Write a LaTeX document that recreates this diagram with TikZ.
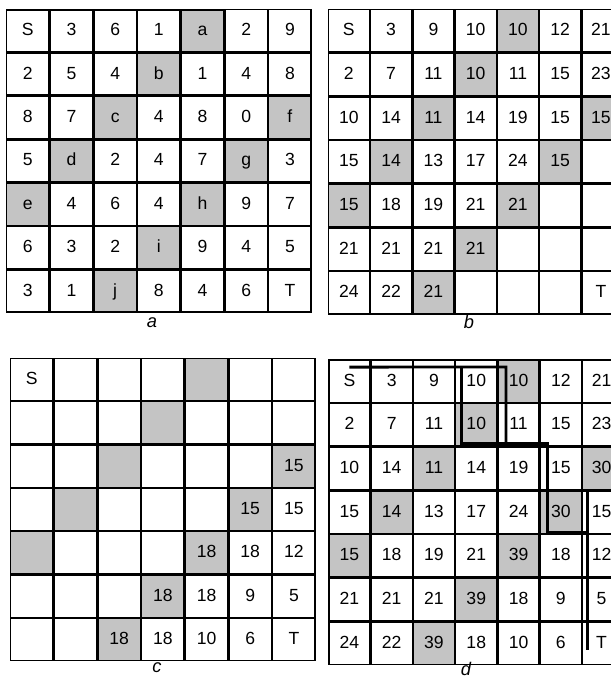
\documentclass[tikz,border=0pt]{standalone}
\usepackage{fontspec}
\setmainfont{Liberation Sans}
\usetikzlibrary{matrix,positioning}
\definecolor{cellgray}{HTML}{C4C4C4}
\tikzset{
  board/.style={matrix of nodes,nodes in empty cells,inner sep=0pt,outer sep=0pt,column sep=0pt,row sep=0pt,anchor=north west,
    nodes={draw=black,line width=.9pt,fill=white,inner sep=0pt,outer sep=0pt,text height=.72em,text depth=0pt,font=\fontsize{12.5}{15}\selectfont}},
  wideboard/.style={nodes={minimum width=1.06cm,minimum height=1.0525cm}},
  narrowboard/.style={nodes={minimum width=1.025cm,minimum height=1.06cm},column 7/.style={nodes={minimum width=.95cm}}},
  shaded/.style={fill=cellgray},
  route/.style={line width=2pt,line join=miter},
  seamline/.style={line width=1.4pt},
  caption/.style={inner sep=0pt,font=\fontsize{13}{15}\selectfont\itshape},
}

\begin{document}
\begin{tikzpicture}[x=0.025cm,y=-0.025cm]
    \clip (0,0) rectangle (611,679);
    \useasboundingbox (0,0) rectangle (611,679);
    % grid a
    \matrix[board,wideboard] (ga) at (6,9) {
      S & 3 & 6 & 1 & |[shaded]| a & 2 & 9 \\
      2 & 5 & 4 & |[shaded]| b & 1 & 4 & 8 \\
      8 & 7 & |[shaded]| c & 4 & 8 & 0 & |[shaded]| f \\
      5 & |[shaded]| d & 2 & 4 & 7 & |[shaded]| g & 3 \\
      |[shaded]| e & 4 & 6 & 4 & |[shaded]| h & 9 & 7 \\
      6 & 3 & 2 & |[shaded]| i & 9 & 4 & 5 \\
      3 & 1 & |[shaded]| j & 8 & 4 & 6 & T \\
    };
    \draw[seamline] (ga-1-1.north west) -- (ga-1-5.north east);
    \draw[seamline] (ga-4-1.north west) -- (ga-4-7.north east);
    % grid b
    \matrix[board,narrowboard] (gb) at (327.7,9) {
      S & 3 & 9 & 10 & |[shaded]| 10 & 12 & 21 \\
      2 & 7 & 11 & |[shaded]| 10 & 11 & 15 & 23 \\
      10 & 14 & |[shaded]| 11 & 14 & 19 & 15 & |[shaded]| 15 \\
      15 & |[shaded]| 14 & 13 & 17 & 24 & |[shaded]| 15 & \\
      |[shaded]| 15 & 18 & 19 & 21 & |[shaded]| 21 & & \\
      21 & 21 & 21 & |[shaded]| 21 & & & \\
      24 & 22 & |[shaded]| 21 & & & & T \\
    };
    % grid c
    \matrix[board,wideboard] (gc) at (10,357.7) {
      S & & & & |[shaded]| & & \\
      & & & |[shaded]| & & & \\
      & & |[shaded]| & & & & |[shaded]| 15 \\
      & |[shaded]| & & & & |[shaded]| 15 & 15 \\
      |[shaded]| & & & & |[shaded]| 18 & 18 & 12 \\
      & & & |[shaded]| 18 & 18 & 9 & 5 \\
      & & |[shaded]| 18 & 18 & 10 & 6 & T \\
    };
    \draw[seamline] (gc-4-1.north west) -- (gc-4-7.north east);
    % grid d
    \matrix[board,narrowboard] (gd) at (328.3,359.3) {
      S & 3 & 9 & 10 & |[shaded]| 10 & 12 & 21 \\
      2 & 7 & 11 & |[shaded]| 10 & 11 & 15 & 23 \\
      10 & 14 & |[shaded]| 11 & 14 & 19 & 15 & |[shaded]| 30 \\
      15 & |[shaded]| 14 & 13 & 17 & 24 & |[shaded]| 30 & 15 \\
      |[shaded]| 15 & 18 & 19 & 21 & |[shaded]| 39 & 18 & 12 \\
      21 & 21 & 21 & |[shaded]| 39 & 18 & 9 & 5 \\
      24 & 22 & |[shaded]| 39 & 18 & 10 & 6 & T \\
    };
    \draw[route] ([shift={(0,-14)}]gd-1-1.center) -- ([shift={(8,7)}]gd-1-5.north west) -- ([shift={(8,-4)}]gd-3-5.north west);
    \draw[route] ([shift={(6,7)}]gd-1-4.north west) -- ([shift={(6,-4)}]gd-3-4.north west) -- ([shift={(7,-4)}]gd-3-6.north west)
      -- ([shift={(7,-2)}]gd-5-6.north west) -- ([shift={(5,-2)}]gd-5-7.north west);
    \draw[route] ([shift={(7,-1)}]gd-4-6.north west) -- ([shift={(5,-1)}]gd-4-7.north west) -- ([shift={(5,28)}]gd-7-7.north west);
    % captions
    \node[caption] (capa) at (152,323) {a};
    \node[caption] (capb) at (469,322) {b};
    \node[caption] (capc) at (157,668) {c};
    \node[caption] (capd) at (466,669) {d};
\end{tikzpicture}
\end{document}
